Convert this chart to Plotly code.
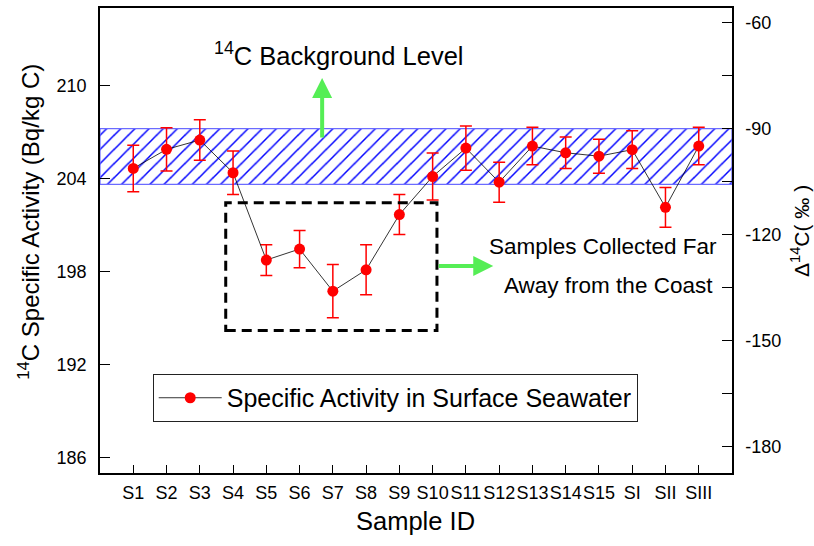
import plotly.graph_objects as go

# ---- data ----
sample_ids = ["S1", "S2", "S3", "S4", "S5", "S6", "S7", "S8", "S9", "S10",
              "S11", "S12", "S13", "S14", "S15", "SI", "SII", "SIII"]
activity = [204.65, 205.88, 206.48, 204.37, 198.74, 199.45, 196.73, 198.11, 201.67, 204.13,
            205.96, 203.76, 206.09, 205.66, 205.44, 205.86, 202.14, 206.09]
activity_err = [1.50, 1.39, 1.31, 1.40, 0.99, 1.20, 1.72, 1.61, 1.29, 1.51,
                1.42, 1.29, 1.21, 1.02, 1.10, 1.22, 1.28, 1.21]
background_low = 203.62
background_high = 207.22
left_ticks = [186, 192, 198, 204, 210]
right_ticks = [-180, -165, -150, -135, -120, -105, -90, -75, -60]
right_ticklabels = ["-180", "", "-150", "", "-120", "", "-90", "", "-60"]

FONT = "Liberation Sans, Arial, sans-serif"
idx = list(range(len(sample_ids)))
xmin, xmax = -1, len(sample_ids)

fig = go.Figure()

# background band (hatched)
fig.add_trace(go.Scatter(
    x=[xmin, xmax, xmax, xmin, xmin],
    y=[background_low, background_low, background_high, background_high, background_low],
    mode="lines", fill="toself",
    fillcolor="white",
    fillpattern=dict(shape="/", fgcolor="#0000ff", bgcolor="white", fgopacity=1,
                     size=10, solidity=0.15),
    line=dict(color="#6b6bff", width=1.2),
    showlegend=False, hoverinfo="skip"))

fig.add_trace(go.Scatter(
    x=idx, y=activity,
    mode="lines+markers",
    name="Specific Activity in Surface Seawater",
    line=dict(color="black", width=0.8),
    marker=dict(color="#ff0000", size=11),
    error_y=dict(type="data", array=activity_err, color="#ff0000", thickness=1.5, width=6),
))

# dummy trace for right axis
fig.add_trace(go.Scatter(x=[None], y=[None], yaxis="y2", showlegend=False, hoverinfo="skip"))

common = dict(tickcolor="black", tickwidth=1, showline=True, linecolor="black", linewidth=1.5,
              showgrid=False, zeroline=False, automargin=False,
              tickfont=dict(size=18, family=FONT))

fig.update_layout(
    width=814, height=546, autosize=False,
    margin=dict(l=100, r=82, t=8, b=73),
    paper_bgcolor="white", plot_bgcolor="white",
    font=dict(family=FONT, color="black", size=18),
    xaxis=dict(range=[xmin, xmax], tickmode="array", tickvals=idx, ticktext=sample_ids,
               ticks="inside", ticklen=8, mirror=True, tickangle=0, ticklabelstandoff=3,
               **common),
    yaxis=dict(range=[185, 215], tickmode="array", tickvals=left_ticks,
               ticks="inside", ticklen=10, ticklabelstandoff=8, **common),
    yaxis2=dict(range=[-187.6, -55.75], overlaying="y", side="right",
                tickmode="array", tickvals=right_ticks, ticktext=right_ticklabels,
                ticks="inside", ticklen=10, ticklabelstandoff=8, **common),
    legend=dict(x=0.0834, y=0.1613, xanchor="left", yanchor="middle",
                bgcolor="white", bordercolor="#222222", borderwidth=1,
                itemwidth=63,
                font=dict(size=25, family=FONT)),
    shapes=[dict(type="rect", xref="x", yref="y", x0=2.78, x1=9.13, y0=194.2, y1=202.43,
                 line=dict(color="black", width=3, dash="10px,6px"), fillcolor="rgba(0,0,0,0)")],
)

def txt(text, x, y, size, angle=0):
    return dict(text=text, x=x, y=y, xref="paper", yref="paper", xanchor="center",
                yanchor="middle", textangle=angle, showarrow=False,
                font=dict(size=size, family=FONT, color="black"))

annos = [
    txt("<sup>14</sup>C Background Level", 0.3784, 0.901, 25.5),
    txt("Samples Collected Far", 0.7956, 0.4875, 22.5),
    txt("Away from the Coast", 0.8048, 0.403, 22.5),
    txt("<sup>14</sup>C Specific Activity (Bq/kg C)", -0.1124, 0.54, 24, -90),
    txt("Δ<sup>14</sup>C( ‰ )", 1.1076, 0.5204, 21, -90),
    txt("Sample ID", 0.4987, -0.103, 25.5),
    # green arrows
    dict(text="", x=0.3515, y=0.8495, xref="paper", yref="paper", showarrow=True,
         ax=0, ay=61, arrowcolor="#55ee55", arrowwidth=4, arrowhead=2, arrowsize=1),
    dict(text="", x=0.6222, y=0.4452, xref="paper", yref="paper", showarrow=True,
         ax=-56, ay=0, arrowcolor="#55ee55", arrowwidth=4, arrowhead=2, arrowsize=1),
]
fig.update_layout(annotations=annos)

fig.write_html("out.html", config={"displayModeBar": False},
               post_script="document.body.style.margin='0';document.body.style.overflow='hidden';")
